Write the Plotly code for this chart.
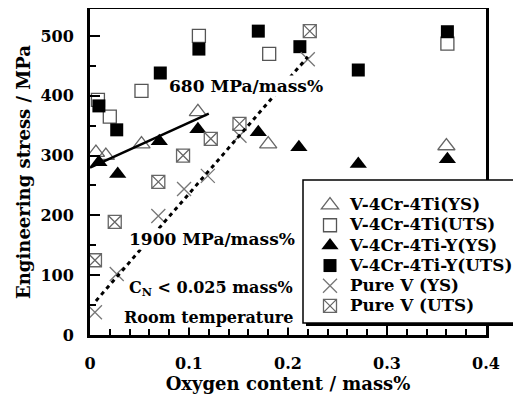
import plotly.graph_objects as go

# ---- data ----
ys_v4_x = [0.006, 0.016, 0.052, 0.109, 0.180, 0.360]
ys_v4_y = [305, 300, 319, 373, 319, 316]

uts_v4_x = [0.008, 0.020, 0.052, 0.110, 0.181, 0.361]
uts_v4_y = [393, 365, 408, 500, 470, 487]

ys_v4y_x = [0.009, 0.028, 0.070, 0.109, 0.170, 0.211, 0.271, 0.361]
ys_v4y_y = [289, 269, 324, 344, 339, 314, 286, 294]

uts_v4y_x = [0.009, 0.027, 0.071, 0.110, 0.170, 0.212, 0.271, 0.361]
uts_v4y_y = [383, 343, 438, 478, 508, 482, 443, 507]

ys_pv_x = [0.005, 0.027, 0.069, 0.095, 0.119, 0.151, 0.220]
ys_pv_y = [38, 102, 199, 244, 266, 333, 461]

uts_pv_x = [0.005, 0.025, 0.069, 0.094, 0.122, 0.151, 0.222]
uts_pv_y = [125, 189, 256, 300, 328, 353, 508]

fit680_x = [0.0, 0.120]
fit680_y = [280, 370]
fit1900_x = [0.006, 0.220]
fit1900_y = [57, 465]

x_ticks = [0, 0.1, 0.2, 0.3, 0.4]
x_labels = ["0", "0.1", "0.2", "0.3", "0.4"]
y_ticks = [0, 100, 200, 300, 400, 500]

FONT = "DejaVu Serif"

# figure geometry (page body has an 8px margin, so the figure is 513x390)
W, H = 513, 390
OFF = 8
PL, PR, PT, PB = 82, 478, 1, 327
def px(xs):  # screen x -> paper x
    return (xs - OFF - PL) / (PR - PL)
def py(ys):  # screen y -> paper y
    return (PB - (ys - OFF)) / (PB - PT)

fig = go.Figure()

def add(x, y, name, symbol, color, size, lw):
    fig.add_trace(go.Scatter(
        x=x, y=y, mode="markers",
        name=f'<span style="font-size:16.8px"><b>{name}</b></span>',
        marker=dict(symbol=symbol, size=size, color=color,
                    line=dict(color=color, width=lw)),
    ))

add(ys_v4_x, ys_v4_y, "V-4Cr-4Ti(YS)", "triangle-up-open", "#666666", 15, 1.3)
add(uts_v4_x, uts_v4_y, "V-4Cr-4Ti(UTS)", "square-open", "#555555", 13, 1.3)
add(ys_v4y_x, ys_v4y_y, "V-4Cr-4Ti-Y(YS)", "triangle-up", "#000000", 15, 0)
add(uts_v4y_x, uts_v4y_y, "V-4Cr-4Ti-Y(UTS)", "square", "#000000", 13, 0)
add(ys_pv_x, ys_pv_y, "Pure V (YS)", "x-thin-open", "#777777", 14, 1.3)
add(uts_pv_x, uts_pv_y, "Pure V (UTS)", "square-x-open", "#666666", 13, 1.3)

fig.add_trace(go.Scatter(x=fit680_x, y=fit680_y, mode="lines", showlegend=False,
                         line=dict(color="black", width=2.5)))
fig.add_trace(go.Scatter(x=fit1900_x, y=fit1900_y, mode="lines", showlegend=False,
                         line=dict(color="black", width=3, dash="4px,4px")))

anns = [
    (0.079, 416, "<b>680 MPa/mass%</b>", 17),
    (0.038, 160, "<b>1900 MPa/mass%</b>", 17),
    (0.038, 77, "<b>C<sub>N</sub> &lt; 0.025 mass%</b>", 16),
    (0.033, 30, "<b>Room temperature</b>", 16),
]
for ax_, ay_, t, fs in anns:
    fig.add_annotation(x=ax_, y=ay_, text=t, showarrow=False, xanchor="left",
                       yanchor="middle", font=dict(family=FONT, size=fs, color="black"),
                       xref="x", yref="y", bgcolor="white", borderpad=0)

# legend box with drop shadow
fig.add_shape(type="rect", xref="paper", yref="paper",
              x0=px(306), x1=px(522), y0=py(326), y1=py(183),
              fillcolor="black", line=dict(width=0), layer="above")
fig.add_shape(type="rect", xref="paper", yref="paper",
              x0=px(303), x1=px(519), y0=py(323), y1=py(180),
              fillcolor="white", line=dict(color="black", width=1.5), layer="above")

fig.update_layout(
    width=W, height=H,
    margin=dict(l=PL, r=W - PR, t=PT, b=H - PB, autoexpand=False, pad=0),
    paper_bgcolor="white", plot_bgcolor="white",
    font=dict(family=FONT, color="black"),
    showlegend=True,
    legend=dict(x=px(310), y=py(190), xanchor="left", yanchor="top",
                bgcolor="rgba(0,0,0,0)", borderwidth=0,
                font=dict(family=FONT, size=13.2, color="black"),
                tracegroupgap=0, itemsizing="trace"),
    xaxis=dict(range=[0, 0.4], tickvals=x_ticks, ticktext=[f"<b>{t}</b>" for t in x_labels],
               ticks="inside", ticklen=9, tickwidth=2, tickcolor="black",
               minor=dict(dtick=0.02, ticks="inside", ticklen=6, tickwidth=2, tickcolor="black"),
               showline=True, linecolor="black", linewidth=3, mirror=True,
               showgrid=False, zeroline=False, ticklabelstandoff=12,
               tickfont=dict(family=FONT, size=16, color="black"),
               title=dict(text="<b>Oxygen content / mass%</b>",
                          font=dict(family=FONT, size=18, color="black"), standoff=6)),
    yaxis=dict(range=[0, 545], tickvals=y_ticks, ticktext=[f"<b>{t}</b>" for t in y_ticks],
               ticks="inside", ticklen=10, tickwidth=2, tickcolor="black",
               minor=dict(dtick=50, ticks="inside", ticklen=6, tickwidth=2, tickcolor="black"),
               showline=True, linecolor="black", linewidth=3, mirror=True,
               showgrid=False, zeroline=False, ticklabelstandoff=10,
               tickfont=dict(family=FONT, size=16, color="black"),
               title=dict(text="<b>Engineering stress / MPa</b>",
                          font=dict(family=FONT, size=18, color="black"), standoff=6)),
)

fig.write_html("out.html")
